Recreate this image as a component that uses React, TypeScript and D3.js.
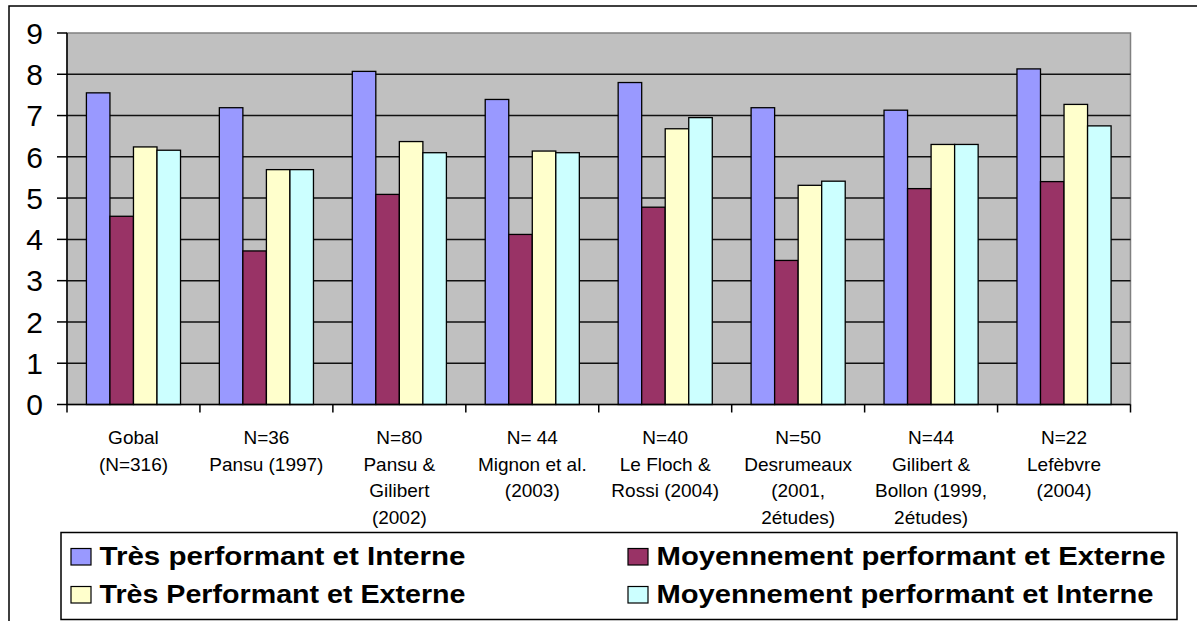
import React from "react";
import * as d3 from "d3";

const categories = [
  "Gobal\n(N=316)",
  "N=36\nPansu (1997)",
  "N=80\nPansu &\nGilibert\n(2002)",
  "N= 44\nMignon et al.\n(2003)",
  "N=40\nLe Floch &\nRossi (2004)",
  "N=50\nDesrumeaux\n(2001,\n2études)",
  "N=44\nGilibert &\nBollon (1999,\n2études)",
  "N=22\nLefèbvre\n(2004)",
];

const seriesNames = [
  "Très performant et Interne",
  "Moyennement performant et Externe",
  "Très Performant et Externe",
  "Moyennement performant et Interne",
];

const tresInterne = [7.55, 7.19, 8.07, 7.39, 7.8, 7.19, 7.13, 8.13];
const moyenExterne = [4.56, 3.72, 5.09, 4.12, 4.78, 3.49, 5.23, 5.4];
const tresExterne = [6.24, 5.69, 6.37, 6.14, 6.68, 5.31, 6.3, 7.27];
const moyenInterne = [6.16, 5.69, 6.1, 6.1, 6.95, 5.41, 6.3, 6.75];

const seriesValues = [tresInterne, moyenExterne, tresExterne, moyenInterne];
const seriesColors = ["#9999FF", "#993366", "#FFFFCC", "#CCFFFF"];

const yTicks = [0, 1, 2, 3, 4, 5, 6, 7, 8, 9];

const W = 1197;
const H = 621;
const plot = { left: 67, right: 1130.5, top: 33, bottom: 404.5 };

export default function App() {
  const x0 = d3
    .scaleBand<string>()
    .domain(categories)
    .range([plot.left, plot.right])
    .padding(0);
  const bw = x0.bandwidth();
  const x1 = d3
    .scaleBand<string>()
    .domain(seriesNames)
    .range([bw * 0.146, bw * 0.854])
    .padding(0);
  const y = d3.scaleLinear().domain([0, 9]).range([plot.bottom, plot.top]);

  const font = "'Liberation Sans', Arial, sans-serif";

  const legendItems = [
    { i: 0, x: 71, yy: 548.5 },
    { i: 1, x: 628, yy: 548.5 },
    { i: 2, x: 71, yy: 586.5 },
    { i: 3, x: 628, yy: 586.5 },
  ];
  const legendLengths = [366, 509, 366, 497];

  return (
    <svg
      width={W}
      height={H}
      style={{ position: "absolute", left: 0, top: 0, background: "#fff" }}
      fontFamily={font}
    >
      {/* outer frame */}
      <rect x={9} y={6} width={1300} height={800} fill="#fff" stroke="#000" strokeWidth={1.5} />

      {/* plot area */}
      <rect
        x={plot.left}
        y={plot.top}
        width={plot.right - plot.left}
        height={plot.bottom - plot.top}
        fill="#C0C0C0"
        stroke="#808080"
        strokeWidth={1.5}
      />

      {/* gridlines */}
      {yTicks
        .filter((t) => t > 0 && t < 9)
        .map((t) => (
          <line
            key={"g" + t}
            x1={plot.left}
            x2={plot.right}
            y1={y(t)}
            y2={y(t)}
            stroke="#111"
            strokeWidth={1.5}
          />
        ))}

      {/* bars */}
      {categories.map((c, ci) => (
        <g key={c} transform={`translate(${x0(c)},0)`}>
          {seriesNames.map((s, si) => {
            const v = seriesValues[si][ci];
            return (
              <rect
                key={s}
                x={x1(s)}
                y={y(v)}
                width={x1.bandwidth()}
                height={y(0) - y(v)}
                fill={seriesColors[si]}
                stroke="#000"
                strokeWidth={1.3}
              />
            );
          })}
        </g>
      ))}

      {/* y axis */}
      <line x1={plot.left} x2={plot.left} y1={plot.top} y2={plot.bottom} stroke="#000" strokeWidth={1.5} />
      {yTicks.map((t) => (
        <g key={"y" + t}>
          <line x1={57} x2={plot.left} y1={y(t)} y2={y(t)} stroke="#000" strokeWidth={1.5} />
          <text
            x={43}
            y={y(t)}
            dy="0.36em"
            textAnchor="end"
            fontSize={30}
            fill="#000"
          >
            {t}
          </text>
        </g>
      ))}

      {/* x axis */}
      <line x1={plot.left} x2={plot.right} y1={y(0)} y2={y(0)} stroke="#000" strokeWidth={1.5} />
      {categories.map((c) => (
        <line
          key={"t" + c}
          x1={x0(c)}
          x2={x0(c)}
          y1={y(0)}
          y2={y(0) + 8}
          stroke="#000"
          strokeWidth={1.5}
        />
      ))}
      <line x1={plot.right} x2={plot.right} y1={y(0)} y2={y(0) + 8} stroke="#000" strokeWidth={1.5} />
      {categories.map((c) => (
        <text
          key={"l" + c}
          x={(x0(c) as number) + bw / 2}
          textAnchor="middle"
          fontSize={19}
          fill="#000"
        >
          {c.split("\n").map((line, li) => (
            <tspan key={li} x={(x0(c) as number) + bw / 2} y={444 + li * 26.7}>
              {line}
            </tspan>
          ))}
        </text>
      ))}

      {/* legend */}
      <rect x={61} y={532.5} width={1116} height={87} fill="#fff" stroke="#000" strokeWidth={1.5} />
      {legendItems.map((it) => (
        <g key={"lg" + it.i}>
          <rect
            x={it.x}
            y={it.yy}
            width={20}
            height={16.5}
            fill={seriesColors[it.i]}
            stroke="#000"
            strokeWidth={1.2}
          />
          <text
            x={it.x + 28.5}
            y={it.yy + 16.5}
            fontSize={25}
            fontWeight="bold"
            fill="#000"
            textLength={legendLengths[it.i]}
            lengthAdjust="spacingAndGlyphs"
          >
            {seriesNames[it.i]}
          </text>
        </g>
      ))}
    </svg>
  );
}
